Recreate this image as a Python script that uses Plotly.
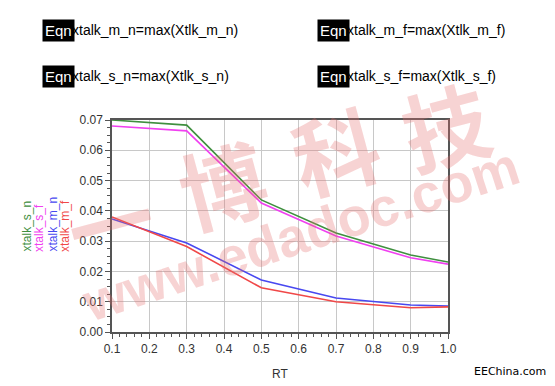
import plotly.graph_objects as go

rt = [0.1, 0.3, 0.5, 0.7, 0.9, 1.0]
xtalk_s_n = [0.0700, 0.0683, 0.0436, 0.0327, 0.0254, 0.0231]
xtalk_s_f = [0.0680, 0.0664, 0.0426, 0.0317, 0.0245, 0.0224]
xtalk_m_n = [0.0373, 0.0294, 0.0172, 0.0112, 0.0089, 0.0086]
xtalk_m_f = [0.0380, 0.0282, 0.0146, 0.0100, 0.0080, 0.0083]

series = [
    ("xtalk_s_n", xtalk_s_n, "#3f8f3f"),
    ("xtalk_s_f", xtalk_s_f, "#f040f0"),
    ("xtalk_m_n", xtalk_m_n, "#4848f0"),
    ("xtalk_m_f", xtalk_m_f, "#f04848"),
]
equations = [
    "xtalk_m_n=max(Xtlk_m_n)",
    "xtalk_m_f=max(Xtlk_m_f)",
    "xtalk_s_n=max(Xtlk_s_n)",
    "xtalk_s_f=max(Xtlk_s_f)",
]
x_ticks = [0.1, 0.2, 0.3, 0.4, 0.5, 0.6, 0.7, 0.8, 0.9, 1.0]
y_ticks = [0.00, 0.01, 0.02, 0.03, 0.04, 0.05, 0.06, 0.07]

W, H = 555, 386
L, R, T, B = 112, 448, 120, 332

def px(x):
    return (x - L) / (R - L)

def py(y):
    return (B - y) / (B - T)

fig = go.Figure()
for name, vals, col in series:
    fig.add_trace(go.Scatter(x=rt, y=vals, mode="lines", name=name,
                             line=dict(color=col, width=1.6), showlegend=False))

ann = []
# watermark
wm_col = "rgba(228,110,110,0.30)"
for ch, cx, cy in [("一", 110, 220), ("博", 222, 182), ("科", 335, 148), ("技", 445, 123)]:
    ann.append(dict(text="<b>" + ch + "</b>", x=px(cx), y=py(cy), xref="paper", yref="paper",
                    showarrow=False, textangle=-15,
                    font=dict(family="Noto Sans CJK SC", size=86, color=wm_col),
                    xanchor="center", yanchor="middle"))
ann.append(dict(text="<b>www.edadoc.com</b>", x=px(300), y=py(234), xref="paper", yref="paper",
                showarrow=False, textangle=-18,
                font=dict(family="Liberation Sans", size=54, color=wm_col),
                xanchor="center", yanchor="middle"))

# equation blocks
pos = [(42, 30), (317, 30), (42, 76), (317, 76)]
for (ex, ey), txt in zip(pos, equations):
    ann.append(dict(text="Eqn", x=px(ex), y=py(ey), xref="paper", yref="paper",
                    showarrow=False, xanchor="left", yanchor="middle",
                    bgcolor="black", borderpad=2,
                    font=dict(family="Liberation Sans", size=15, color="white")))
    ann.append(dict(text=txt, x=px(ex + 28), y=py(ey), xref="paper", yref="paper",
                    showarrow=False, xanchor="left", yanchor="middle",
                    font=dict(family="Liberation Sans", size=14, color="black")))

# rotated legend labels
for (name, vals, col), cx in zip(series, [26, 39, 52, 65]):
    ann.append(dict(text=name, x=px(cx), y=py(254), xref="paper", yref="paper",
                    showarrow=False, textangle=-90, xanchor="center", yanchor="bottom",
                    font=dict(family="Liberation Sans", size=12, color=col)))

ann.append(dict(text="EEChina.com", x=px(548), y=py(371), xref="paper", yref="paper",
                showarrow=False, xanchor="right", yanchor="middle",
                font=dict(family="DejaVu Sans", size=11, color="black")))

fig.update_layout(
    width=W, height=H,
    margin=dict(l=L, r=W - R, t=T, b=H - B),
    plot_bgcolor="white", paper_bgcolor="white",
    annotations=ann,
    font=dict(family="Liberation Sans", size=12, color="#333"),
)
fig.update_xaxes(range=[0.1, 1.0], tickvals=x_ticks, tickformat=".1f",
                 showgrid=True, gridcolor="#c8c8c8", gridwidth=1,
                 showline=True, linecolor="#555", linewidth=1.5, mirror=True,
                 ticks="outside", ticklen=5, tickcolor="#555",
                 minor=dict(dtick=0.02, ticks="outside", ticklen=3, tickcolor="#555", showgrid=False),
                 title=dict(text="RT", font=dict(size=12, color="#333"), standoff=14),
                 automargin=False, zeroline=False)
fig.update_yaxes(range=[0.0, 0.07], tickvals=y_ticks, tickformat=".2f",
                 showgrid=True, gridcolor="#c8c8c8", gridwidth=1,
                 showline=True, linecolor="#555", linewidth=1.5, mirror=True,
                 ticks="outside", ticklen=5, tickcolor="#555",
                 minor=dict(dtick=0.0025, ticks="outside", ticklen=3, tickcolor="#555", showgrid=False),
                 automargin=False, zeroline=False)

fig.write_html("out.html", config={"displayModeBar": False},
               post_script="document.body.style.margin='0px';document.body.style.overflow='hidden';")
